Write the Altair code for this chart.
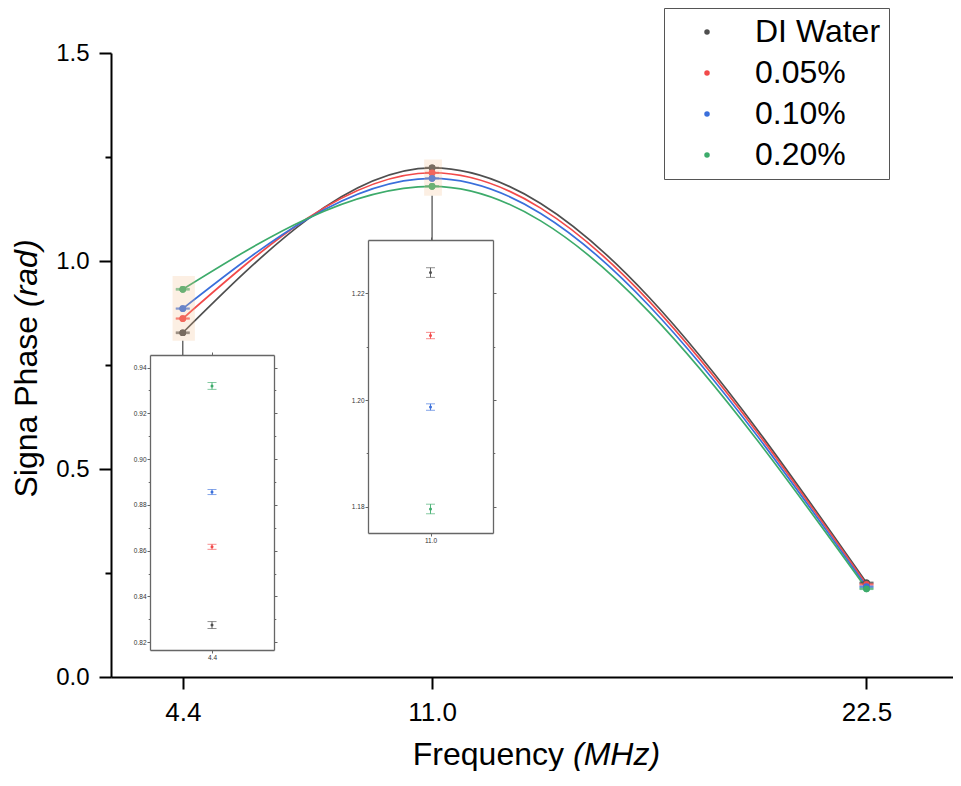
import altair as alt
import pandas as pd

FONT = "Liberation Sans"

# ---------------- data ----------------
series = ["DI Water", "0.05%", "0.10%", "0.20%"]
colors = ["#4f4f4f", "#f24a4a", "#3a6fdb", "#3dab6b"]
freq = [4.4, 11.0, 22.5]

phase_di = [0.8275, 1.2239, 0.2265]
phase_005 = [0.8617, 1.2121, 0.2225]
phase_010 = [0.8856, 1.1987, 0.2170]
phase_020 = [0.9320, 1.1796, 0.2120]

err_di = [0.0015, 0.0009, 0.0012]
err_005 = [0.0011, 0.0006, 0.0012]
err_010 = [0.0011, 0.0006, 0.0012]
err_020 = [0.0015, 0.0009, 0.0012]

# zoom boxes (highlighted regions) and connector ends, in data units
zoom_freq = [4.4, 11.0]
zoom_x_lo = [4.13, 10.79]
zoom_x_hi = [4.72, 11.26]
zoom_y_lo = [0.808, 1.157]
zoom_y_hi = [0.964, 1.244]
zoom_conn_end = [0.774, 1.050]

main_y_ticks = [0.0, 0.25, 0.5, 0.75, 1.0, 1.25, 1.5]
inset1_y_ticks = [0.82, 0.83, 0.84, 0.85, 0.86, 0.87, 0.88, 0.89, 0.90, 0.91, 0.92, 0.93, 0.94]
inset2_y_ticks = [1.18, 1.19, 1.20, 1.21, 1.22]

rows = []
for s, vals, errs in zip(series, [phase_di, phase_005, phase_010, phase_020],
                         [err_di, err_005, err_010, err_020]):
    for f, v, e in zip(freq, vals, errs):
        rows.append({"series": s, "freq": f, "phase": v, "lo": v - e, "hi": v + e})
df = pd.DataFrame(rows)

df_box = pd.DataFrame({"f": zoom_freq, "x_lo": zoom_x_lo, "x_hi": zoom_x_hi,
                       "y_lo": zoom_y_lo, "y_hi": zoom_y_hi, "yc": zoom_conn_end})

# ---------------- main plot ----------------
W, H = 842, 624
xs = alt.Scale(domain=[2.5, 24.79], nice=False, zero=False)
ys = alt.Scale(domain=[0, 1.5], nice=False, zero=False)

x_axis = alt.Axis(values=freq, format=".1f", title=None, tickSize=12, tickWidth=2,
                  domainWidth=2, domainColor="black", tickColor="black",
                  labelColor="black", labelFontSize=26, labelFont=FONT,
                  labelPadding=10, grid=False)
y_axis = alt.Axis(values=main_y_ticks, title=None,
                  labelExpr="round(datum.value*4)%2==0 ? format(datum.value,'.1f') : ''",
                  tickSize={"condition": {"test": "round(datum.value*4)%2==0", "value": 12}, "value": 6},
                  tickWidth=2, domainWidth=2, domainColor="black", tickColor="black",
                  labelColor="black", labelFontSize=24, labelFont=FONT,
                  labelPadding=10, grid=False)

color_scale = alt.Scale(domain=series, range=colors)
color_nolegend = alt.Color("series:N", scale=color_scale, legend=None)
color_legend = alt.Color("series:N", scale=color_scale,
                         legend=alt.Legend(orient="none", legendX=553, legendY=-45, title=None,
                                           labelFont=FONT, labelFontSize=32, labelColor="black",
                                           symbolType="circle", symbolSize=30, symbolStrokeWidth=0,
                                           padding=8, rowPadding=9, labelOffset=32, symbolOffset=19,
                                           strokeColor="#555", fillColor="white"))

X = alt.X("freq:Q", scale=xs, axis=x_axis)

# first layer carries the legend (legend settings of the first layer win when merged)
points_legend = alt.Chart(df).mark_circle(size=45, opacity=1).encode(
    x=X, y=alt.Y("phase:Q", scale=ys, axis=y_axis), color=color_legend)
lines = alt.Chart(df).mark_line(interpolate="monotone", strokeWidth=1.7).encode(
    x=X, y=alt.Y("phase:Q", scale=ys, axis=y_axis), color=color_nolegend)
err_main = alt.Chart(df).mark_errorbar(ticks=True, size=14, thickness=1.5).encode(
    x=X, y=alt.Y("lo:Q", scale=ys, axis=y_axis), y2="hi:Q", color=color_nolegend)
points = alt.Chart(df).mark_circle(size=45, opacity=1).encode(
    x=X, y=alt.Y("phase:Q", scale=ys, axis=y_axis), color=color_nolegend)
rect = alt.Chart(df_box).mark_rect(color="#f5c08e", opacity=0.25).encode(
    x=alt.X("x_lo:Q", scale=xs, axis=x_axis), x2="x_hi:Q",
    y=alt.Y("y_lo:Q", scale=ys, axis=y_axis), y2="y_hi:Q")
conn = alt.Chart(df_box).mark_rule(color="#555", strokeWidth=1.3).encode(
    x=alt.X("f:Q", scale=xs, axis=x_axis),
    y=alt.Y("y_lo:Q", scale=ys, axis=y_axis), y2="yc:Q")

main = alt.layer(points_legend, lines, err_main, points, rect, conn)


# ---------------- insets ----------------
def inset(fval, xdom, xr, ydom, yr, yticks):
    d = df[df["freq"] == fval]
    xsc = alt.Scale(domain=xdom, range=xr, nice=False, zero=False)
    ysc = alt.Scale(domain=ydom, range=yr, nice=False, zero=False)
    common = dict(grid=False, title=None, domainColor="#666", tickColor="#666",
                  domainWidth=1.3, tickWidth=1, labelColor="#333", labelFont=FONT,
                  labelFontSize=6.5, labelPadding=1)
    major = "round(datum.value*100)%2==0"
    left = alt.Axis(orient="left", offset=-xr[0], values=yticks,
                    labelExpr=major + " ? format(datum.value,'.2f') : ''",
                    tickSize={"condition": {"test": major, "value": 3}, "value": 1.8}, **common)
    right = alt.Axis(orient="right", offset=xr[1] - W, values=yticks, labels=False,
                     tickSize={"condition": {"test": major, "value": 3}, "value": 1.8}, **common)
    bottom = alt.Axis(orient="bottom", offset=yr[0] - H, values=[fval], format=".1f",
                      tickSize=3, **common)
    top = alt.Axis(orient="top", offset=-yr[1], values=[fval], labels=False,
                   tickSize=3, **common)
    pts = alt.Chart(d).mark_circle(size=9, opacity=1).encode(
        x=alt.X("freq:Q", scale=xsc, axis=bottom),
        y=alt.Y("phase:Q", scale=ysc, axis=left), color=color_nolegend)
    err = alt.Chart(d).mark_errorbar(ticks=True, size=9, thickness=0.9).encode(
        x=alt.X("freq:Q", scale=xsc, axis=None),
        y=alt.Y("lo:Q", scale=ysc, axis=None), y2="hi:Q", color=color_nolegend)
    ghost = alt.Chart(d).mark_circle(size=1, opacity=0).encode(
        x=alt.X("freq:Q", scale=xsc, axis=top),
        y=alt.Y("phase:Q", scale=ysc, axis=right))
    return alt.layer(pts, err, ghost).resolve_axis(x="independent", y="independent")


inset1 = inset(4.4, [4.0, 4.8], [39, 163], [0.8166, 0.9455], [597, 302], inset1_y_ticks)
inset2 = inset(11.0, [10.6, 11.4], [257, 382], [1.1751, 1.2300], [480, 187], inset2_y_ticks)

# ---------------- axis titles (mixed upright / italic) ----------------
def txt(s, **kw):
    return alt.Chart(pd.DataFrame({"t": [s]})).mark_text(font=FONT, fontSize=32, color="black", **kw)

t_x1 = txt("Frequency", align="right", baseline="alphabetic").encode(
    text="t:N", x=alt.value(453), y=alt.value(712))
t_x2 = txt("(MHz)", align="left", baseline="alphabetic", fontStyle="italic").encode(
    text="t:N", x=alt.value(462), y=alt.value(712))
t_y1 = txt("Signa Phase", align="right", baseline="alphabetic", angle=270).encode(
    text="t:N", x=alt.value(-74), y=alt.value(263))
t_y2 = txt("(rad)", align="left", baseline="alphabetic", angle=270, fontStyle="italic").encode(
    text="t:N", x=alt.value(-74), y=alt.value(254))

chart = alt.layer(main, inset1, inset2, t_x1, t_x2, t_y1, t_y2).resolve_scale(
    x="independent", y="independent"
).properties(
    width=W, height=H,
    autosize=alt.AutoSizeParams(type="none"),
    padding={"left": 103, "top": 45, "right": 0, "bottom": 94},
).configure_view(stroke=None).configure_axis(grid=False)

chart.save("out.html", embed_options={"renderer": "svg", "actions": False})
